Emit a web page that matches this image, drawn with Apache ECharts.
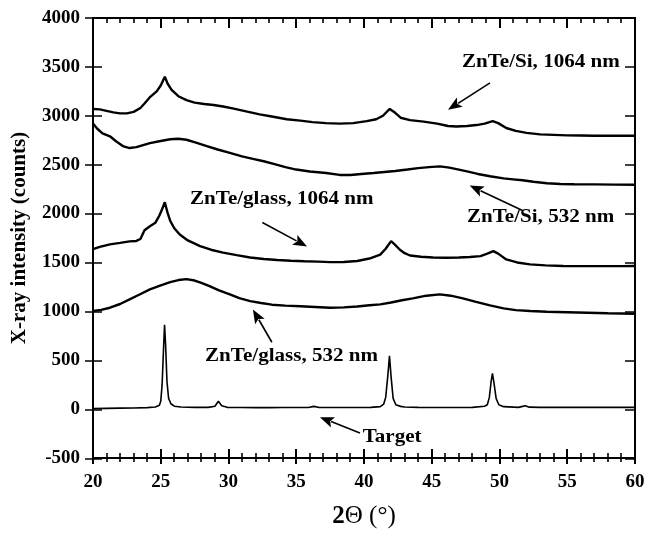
<!DOCTYPE html>
<html>
<head>
<meta charset="utf-8">
<script src="https://cdn.jsdelivr.net/npm/echarts@6/dist/echarts.min.js"></script>
<style>
  html, body { margin: 0; padding: 0; background: #fff; }
  #chart { width: 649px; height: 534px; }
</style>
</head>
<body>
<div id="chart"></div>
<script>
// XRD patterns, [2theta, counts]
var siNd1064 = [[20,3070],[20.5,3065],[21,3050],[21.5,3035],[22,3025],[22.5,3025],[23,3040],[23.5,3080],[23.8,3125],[24.2,3190],[24.7,3250],[25.0,3310],[25.3,3400],[25.5,3330],[25.8,3265],[26.3,3200],[26.9,3160],[27.5,3135],[28.2,3120],[28.9,3110],[29.6,3095],[30.3,3075],[31.3,3045],[32.3,3015],[33.3,2990],[34.3,2965],[35.3,2950],[36.2,2935],[37.2,2925],[38.2,2920],[39.2,2925],[40.2,2945],[40.9,2965],[41.4,3000],[41.9,3070],[42.3,3030],[42.7,2980],[43.4,2955],[44.4,2940],[45.4,2920],[46.2,2895],[46.8,2890],[47.6,2895],[48.3,2905],[48.9,2920],[49.5,2945],[49.9,2925],[50.5,2875],[51.2,2845],[52,2825],[53,2810],[54,2805],[55,2800],[56,2798],[57,2796],[58,2795],[59,2795],[60,2795]];
var si532 = [[20,2920],[20.3,2870],[20.7,2820],[21.25,2790],[21.7,2740],[22.2,2690],[22.7,2670],[23.2,2680],[23.7,2700],[24.2,2720],[24.9,2740],[25.7,2760],[26.3,2765],[26.9,2755],[27.6,2725],[28.4,2690],[29.2,2655],[30.1,2620],[31.0,2585],[31.8,2560],[32.6,2535],[33.4,2505],[34.2,2475],[35.0,2450],[36.0,2430],[37.2,2415],[38.2,2395],[39.0,2395],[39.8,2405],[40.7,2415],[41.5,2425],[42.3,2435],[43.2,2450],[44.0,2465],[44.8,2475],[45.6,2483],[46.3,2470],[47.0,2450],[47.6,2432],[48.4,2405],[49.3,2381],[50.3,2360],[51.0,2350],[51.7,2340],[52.5,2325],[53.5,2310],[54.5,2303],[55.5,2300],[57,2298],[58.5,2296],[60,2295]];
var glass1064 = [[20,1635],[20.5,1660],[21.25,1685],[22,1700],[22.7,1715],[23.2,1720],[23.5,1740],[23.8,1830],[24.2,1870],[24.6,1905],[24.9,1980],[25.1,2045],[25.3,2115],[25.5,2010],[25.7,1925],[26.0,1850],[26.4,1785],[27.0,1725],[27.9,1667],[28.7,1630],[29.6,1600],[30.6,1575],[31.6,1551],[32.6,1535],[33.6,1525],[34.6,1518],[35.6,1512],[36.6,1508],[37.5,1503],[38.5,1505],[39.5,1515],[40.4,1540],[41.2,1580],[41.6,1640],[42.0,1718],[42.3,1680],[42.65,1630],[43.0,1595],[43.4,1571],[44.2,1558],[45.1,1550],[46.1,1548],[47.0,1550],[47.8,1556],[48.6,1565],[49.1,1590],[49.55,1616],[49.9,1590],[50.5,1531],[51.3,1500],[52.25,1480],[53.4,1470],[54.7,1463],[56,1462],[57.5,1462],[59,1462],[60,1463]];
var glass532 = [[20,1003],[20.6,1015],[21.25,1037],[22.0,1075],[22.7,1122],[23.4,1170],[24.2,1224],[25.0,1265],[25.7,1299],[26.3,1320],[26.9,1330],[27.5,1315],[28.0,1290],[28.6,1258],[29.3,1215],[30.1,1173],[30.8,1135],[31.6,1105],[32.4,1085],[33.2,1068],[34.2,1058],[35.3,1052],[36.4,1045],[37.5,1037],[38.5,1040],[39.5,1050],[40.4,1062],[41.2,1071],[42.0,1090],[42.8,1113],[43.6,1133],[44.6,1160],[45.6,1173],[46.4,1160],[47.3,1133],[48.2,1100],[49.3,1061],[50.3,1030],[51.2,1012],[52.25,1003],[53.5,995],[55,990],[56.5,985],[58,980],[60,975]];
var target = [[20,5],[21,8],[22,10],[23,12],[24,15],[24.6,22],[24.9,40],[25.0,80],[25.1,250],[25.2,600],[25.28,862],[25.36,650],[25.46,280],[25.58,110],[25.75,55],[26.0,30],[26.5,22],[27.5,18],[28.5,18],[29.0,30],[29.25,80],[29.5,35],[29.9,18],[31,16],[32,15],[33,15],[34,16],[35,16],[35.9,17],[36.3,28],[36.7,17],[37.5,16],[38.5,16],[39.5,17],[40.5,18],[41.2,25],[41.45,50],[41.6,120],[41.75,330],[41.88,545],[42.0,330],[42.15,110],[42.35,45],[42.7,28],[43,22],[44,18],[45,17],[46,17],[47,17],[48,18],[48.9,30],[49.1,45],[49.25,120],[49.38,280],[49.48,365],[49.6,260],[49.75,110],[49.95,45],[50.3,25],[51.4,18],[51.7,28],[51.9,35],[52.2,20],[53,18],[54,18],[55,18],[56,18],[57,18],[58,18],[59,18],[60,18]];

var xTicks = { min: 20, max: 60, interval: 5, minor: 1 };
var yTicks = { min: -500, max: 4000, interval: 500 };

// labels and arrows, in data coordinates
var notes = [
  { text: 'ZnTe/Si, 1064 nm', at: [47.23, 3551], from: [49.3, 3337], to: [46.2, 3061] },
  { text: 'ZnTe/Si, 532 nm', at: [47.6, 1959], from: [51.7, 2031], to: [47.8, 2286] },
  { text: 'ZnTe/glass, 1064 nm', at: [27.16, 2143], from: [32.5, 1908], to: [35.8, 1663] },
  { text: 'ZnTe/glass, 532 nm', at: [28.27, 541], from: [33.2, 684], to: [31.8, 1020] },
  { text: 'Target', at: [39.9, -286], from: [39.7, -245], to: [36.75, -82] }
];

var FONT = '"Liberation Serif", "Times New Roman", serif';
var black = '#000';
var off = { show: false };

// main plot box
var L = 93, R = 14, T = 18, B = 75;

// y tick strips: small grids whose horizontal split lines act as the tick marks
function yStrip(left, w0) {
  return {
    grid: { left: left, width: w0, top: T, bottom: B },
    x: { type: 'value', min: 0, max: 1, show: false, splitLine: off },
    y: { type: 'value', min: yTicks.min, max: yTicks.max, interval: yTicks.interval,
      axisLine: off, axisTick: off, axisLabel: off,
      splitLine: { show: true, lineStyle: { color: black, width: 1.5 } } }
  };
}
var strips = [yStrip(85, 17), yStrip(625, 10)];

var grids = [{ left: L, right: R, top: T, bottom: B, show: true, borderColor: black, borderWidth: 2,
  backgroundColor: 'transparent' }];
var xAxes = [{
  type: 'value', gridIndex: 0, min: xTicks.min, max: xTicks.max, interval: xTicks.interval,
  axisLine: { show: true, onZero: false, lineStyle: { color: black, width: 2 } },
  axisTick: off, splitLine: off,
  axisLabel: { show: true, margin: 15, color: black, fontSize: 19, fontWeight: 'bold', fontFamily: FONT },
  name: '{b|2}Θ (°)', nameLocation: 'middle', nameGap: 46,
  nameTextStyle: { color: black, fontSize: 25, fontFamily: FONT,
    rich: { b: { fontSize: 25, fontWeight: 'bold', fontFamily: FONT, color: black } } }
}];
var yAxes = [{
  type: 'value', gridIndex: 0, min: yTicks.min, max: yTicks.max, interval: yTicks.interval,
  axisLine: { show: true, onZero: false, lineStyle: { color: black, width: 2 } },
  axisTick: off, splitLine: off,
  axisLabel: { show: true, margin: 13, color: black, fontSize: 19, fontWeight: 'bold', fontFamily: FONT,
    formatter: function (v) { return String(v); } },
  name: 'X-ray intensity (counts)', nameLocation: 'middle', nameGap: 63,
  nameTextStyle: { color: black, fontSize: 21, fontWeight: 'bold', fontFamily: FONT }
}];
strips.forEach(function (s, i) {
  grids.push(s.grid);
  s.x.gridIndex = i + 1;
  s.y.gridIndex = i + 1;
  xAxes.push(s.x);
  yAxes.push(s.y);
});

function line(data, w) {
  return { type: 'line', data: data, xAxisIndex: 0, yAxisIndex: 0, symbol: 'none', silent: true,
    lineStyle: { color: black, width: w }, animation: false };
}

var chart = echarts.init(document.getElementById('chart'));
chart.setOption({
  animation: false,
  backgroundColor: '#fff',
  grid: grids,
  xAxis: xAxes,
  yAxis: yAxes,
  series: [
    line(siNd1064, 2.4),
    line(si532, 2.4),
    line(glass1064, 2.4),
    line(glass532, 2.4),
    line(target, 1.6)
  ]
});

var g = [];

// x tick marks (major every 5, minor every 1) as thin filled bars, placed through the axis scale
for (var v = xTicks.min; v <= xTicks.max; v += xTicks.minor) {
  var major = (v - xTicks.min) % xTicks.interval === 0;
  var pb = chart.convertToPixel({ gridIndex: 0 }, [v, yTicks.min]);
  var pt = chart.convertToPixel({ gridIndex: 0 }, [v, yTicks.max]);
  var w = major ? 2 : 1.6;
  var x0 = Math.round(pb[0]) - w / 2;
  var inB = major ? 9 : 5, outB = major ? 6 : 4, inT = major ? 10 : 5;
  g.push({ type: 'rect', silent: true, z: 10, shape: { x: x0, y: pb[1] - inB, width: w, height: inB + outB }, style: { fill: black } });
  g.push({ type: 'rect', silent: true, z: 10, shape: { x: x0, y: pt[1], width: w, height: inT }, style: { fill: black } });
}

// annotations: text + arrow with filled head
notes.forEach(function (n) {
  var p = chart.convertToPixel({ gridIndex: 0 }, n.at);
  var a = chart.convertToPixel({ gridIndex: 0 }, n.from);
  var b = chart.convertToPixel({ gridIndex: 0 }, n.to);
  g.push({ type: 'text', x: p[0], y: p[1], scaleX: 1.17, silent: true,
    style: { text: n.text, fontSize: 18, fontWeight: 'bold', fontFamily: FONT, fill: black,
      align: 'left', verticalAlign: 'middle' } });
  var dx = b[0] - a[0], dy = b[1] - a[1];
  var len = Math.sqrt(dx * dx + dy * dy);
  var ux = dx / len, uy = dy / len;
  var hl = 14, hw = 5.5;
  var bx = b[0] - ux * hl, by = b[1] - uy * hl;
  g.push({ type: 'line', silent: true, shape: { x1: a[0], y1: a[1], x2: bx + ux * 2, y2: by + uy * 2 },
    style: { stroke: black, lineWidth: 1.6 } });
  g.push({ type: 'polygon', silent: true,
    shape: { points: [[b[0], b[1]], [bx - uy * hw, by + ux * hw], [bx + ux * 3, by + uy * 3], [bx + uy * hw, by - ux * hw]] },
    style: { fill: black } });
});
chart.setOption({ graphic: g });
</script>
</body>
</html>
